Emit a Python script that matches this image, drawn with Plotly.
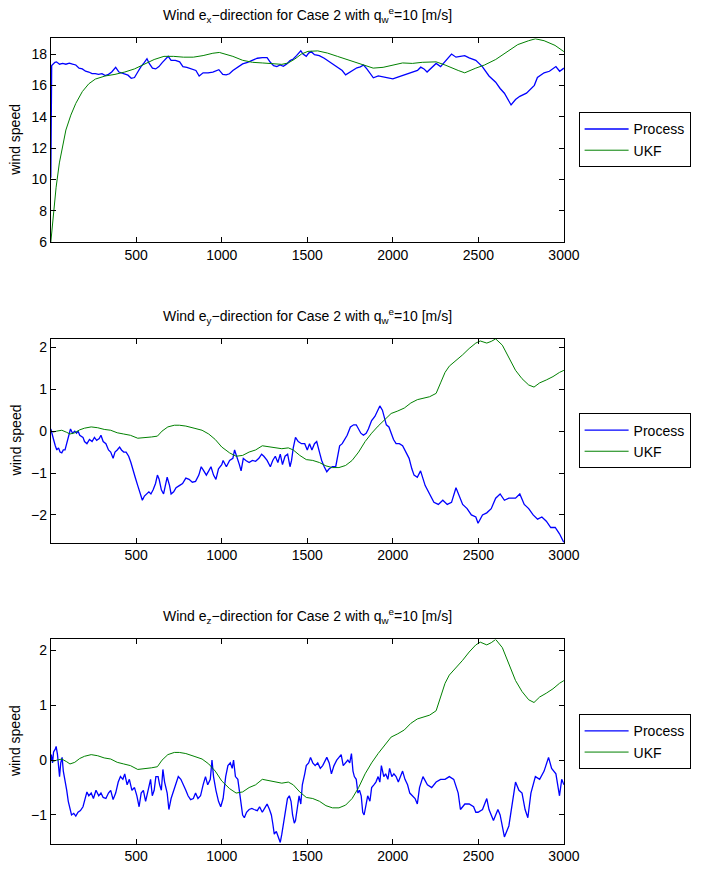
import plotly.graph_objects as go

# ---------------- data ----------------
# Panel 1: wind e_x
proc_x_t = [1, 6, 25, 34, 52, 70, 89, 109, 128, 147, 166, 185, 204, 223, 242, 261, 280, 300, 319, 338,
            357, 380, 399, 414, 433, 452, 471, 490, 509, 528, 547, 563, 576, 595, 614, 633, 652, 671, 687, 704,
            729, 754, 773, 796, 825, 849, 868, 891, 920, 948, 983, 1006, 1026, 1045, 1065, 1093, 1122, 1151, 1180, 1208,
            1237, 1265, 1284, 1303, 1322, 1341, 1360, 1380, 1399, 1418, 1437, 1462, 1475, 1494, 1508, 1523, 1542, 1570, 1599, 1628,
            1657, 1685, 1704, 1724, 1743, 1762, 1790, 1810, 1829, 1848, 1867, 1886, 1915, 1943, 1972, 2000, 2029, 2057, 2086, 2115,
            2144, 2163, 2182, 2200, 2227, 2253, 2279, 2305, 2343, 2369, 2395, 2420, 2446, 2485, 2523, 2562, 2601, 2627, 2652, 2691,
            2717, 2742, 2781, 2807, 2827, 2845, 2884, 2915, 2953, 2975, 3000]
proc_x_v = [10.1, 17.26, 17.47, 17.5, 17.35, 17.4, 17.35, 17.42, 17.35, 17.3, 17.1, 17.05, 16.9, 16.85, 16.75, 16.75, 16.7, 16.75, 16.62, 16.7,
            16.85, 17.15, 16.85, 16.8, 16.75, 16.65, 16.45, 16.5, 16.85, 17.2, 17.45, 17.7, 17.4, 17.1, 17.05, 17.2, 17.45, 17.7, 17.85, 17.6,
            17.6, 17.5, 17.2, 17.15, 17.05, 16.95, 16.6, 16.8, 16.8, 16.85, 17.0, 16.7, 16.67, 16.74, 16.95, 17.16, 17.37, 17.47, 17.62, 17.73,
            17.77, 17.77, 17.47, 17.26, 17.2, 17.3, 17.22, 17.37, 17.58, 17.68, 17.9, 18.21, 18.0, 17.85, 18.06, 18.15, 17.96, 17.9, 17.73, 17.52,
            17.26, 17.1, 16.95, 16.67, 16.8, 16.95, 17.12, 17.18, 17.3, 17.05, 16.74, 16.48, 16.6, 16.53, 16.48, 16.42, 16.53, 16.63, 16.74, 16.84,
            16.95, 17.16, 17.05, 16.85, 17.1, 17.4, 17.2, 17.5, 18.0, 17.8, 17.85, 17.9, 17.75, 17.6, 17.2, 16.6, 16.2, 15.8, 15.5, 14.75,
            15.1, 15.3, 15.5, 15.8, 16.0, 16.5, 16.8, 16.9, 17.2, 16.9, 17.1]
ukf_x_t = [1, 13, 32, 51, 70, 89, 118, 147, 185, 223, 261, 319, 376, 433, 490, 547, 605, 662, 719, 776,
           834, 891, 948, 986, 1007, 1065, 1122, 1180, 1237, 1294, 1351, 1389, 1427, 1466, 1504, 1561, 1618, 1676, 1733, 1790,
           1847, 1885, 1943, 2000, 2057, 2114, 2172, 2253, 2305, 2382, 2420, 2485, 2536, 2601, 2665, 2730, 2794, 2833, 2884, 2948, 3000]
ukf_x_v = [6.0, 7.4, 9.5, 11.05, 12.2, 13.15, 14.1, 14.85, 15.6, 16.1, 16.4, 16.6, 16.7, 16.85, 17.05, 17.35, 17.65, 17.85, 17.85, 17.8,
           17.8, 17.9, 18.05, 18.1, 18.04, 17.85, 17.6, 17.47, 17.43, 17.38, 17.34, 17.43, 17.68, 18.0, 18.17, 18.2, 18.06, 17.85, 17.64, 17.43,
           17.22, 17.1, 17.15, 17.3, 17.43, 17.4, 17.47, 17.5, 17.3, 16.95, 16.8, 17.1, 17.3, 17.65, 18.15, 18.6, 18.85, 18.97, 18.85, 18.55, 18.15]

# Panel 2: wind e_y
proc_y_t = [1, 8, 17, 27, 36, 46, 55, 65, 74, 84, 94, 103, 116, 128, 141, 151, 160, 170, 189, 198,
            212, 227, 242, 256, 269, 284, 294, 307, 323, 338, 351, 365, 376, 389, 403, 414, 427, 441, 456, 469,
            481, 494, 509, 523, 536, 548, 561, 574, 586, 599, 613, 624, 634, 647, 660, 672, 681, 695, 704, 719,
            733, 752, 771, 790, 809, 828, 847, 866, 880, 895, 910, 924, 937, 952, 966, 981, 1000, 1008, 1027, 1046,
            1065, 1075, 1088, 1103, 1113, 1126, 1141, 1160, 1179, 1198, 1217, 1233, 1246, 1265, 1284, 1298, 1313, 1328, 1342, 1355,
            1370, 1385, 1399, 1408, 1418, 1431, 1447, 1466, 1485, 1500, 1513, 1527, 1542, 1555, 1571, 1584, 1599, 1614, 1628, 1647,
            1666, 1676, 1689, 1704, 1718, 1733, 1752, 1771, 1786, 1800, 1813, 1828, 1844, 1857, 1876, 1895, 1908, 1924, 1939, 1952,
            1962, 1977, 1990, 2004, 2019, 2038, 2057, 2076, 2095, 2111, 2124, 2143, 2162, 2189, 2215, 2240, 2266, 2292, 2318, 2343,
            2369, 2408, 2434, 2459, 2485, 2498, 2524, 2549, 2575, 2601, 2627, 2652, 2678, 2717, 2742, 2768, 2794, 2820, 2846, 2871,
            2897, 2923, 2949, 2974, 3000]
proc_y_v = [0.05, -0.1, -0.2, -0.35, -0.45, -0.4, -0.5, -0.52, -0.45, -0.45, -0.3, -0.15, 0.05, -0.05, 0.0, -0.05, 0.0, -0.1, -0.15, -0.25,
            -0.3, -0.2, -0.25, -0.15, -0.22, -0.18, -0.1, -0.25, -0.3, -0.45, -0.5, -0.65, -0.5, -0.45, -0.38, -0.45, -0.5, -0.5, -0.6, -0.75,
            -0.95, -1.1, -1.3, -1.5, -1.65, -1.55, -1.5, -1.45, -1.5, -1.4, -1.25, -1.05, -1.15, -1.4, -1.5, -1.3, -1.1, -1.3, -1.5, -1.45,
            -1.35, -1.3, -1.25, -1.12, -1.15, -1.22, -1.2, -1.05, -0.85, -0.95, -1.05, -0.95, -0.85, -1.05, -1.15, -0.9, -0.8, -0.7, -0.85, -0.7,
            -0.65, -0.45, -0.6, -0.8, -0.95, -0.65, -0.7, -0.75, -0.7, -0.72, -0.65, -0.55, -0.6, -0.7, -0.85, -0.7, -0.6, -0.75, -0.55, -0.8,
            -0.6, -0.55, -0.85, -0.7, -0.4, -0.15, -0.25, -0.3, -0.3, -0.45, -0.3, -0.45, -0.3, -0.25, -0.5, -0.7, -0.85, -0.97, -0.9, -0.85,
            -0.85, -0.6, -0.35, -0.3, -0.2, -0.1, 0.1, 0.15, 0.15, 0.05, -0.05, -0.1, -0.05, 0.05, 0.25, 0.35, 0.45, 0.6, 0.5, 0.3,
            0.15, 0.1, -0.05, -0.2, -0.3, -0.3, -0.35, -0.5, -0.65, -0.9, -1.05, -1.1, -0.95, -1.3, -1.5, -1.7, -1.75, -1.65, -1.75, -1.7,
            -1.35, -1.75, -1.85, -2.0, -2.05, -2.2, -2.0, -1.95, -1.85, -1.6, -1.5, -1.65, -1.6, -1.6, -1.5, -1.75, -1.85, -2.0, -2.1, -2.05,
            -2.15, -2.3, -2.3, -2.45, -2.66]
ukf_y_t = [1, 17, 36, 65, 94, 113, 141, 170, 198, 237, 275, 313, 351, 389, 427, 466, 509, 551, 590, 624,
           651, 685, 723, 752, 790, 838, 885, 924, 962, 1000, 1046, 1084, 1122, 1160, 1198, 1237, 1275, 1313, 1351, 1389,
           1418, 1456, 1494, 1532, 1571, 1609, 1647, 1685, 1724, 1762, 1800, 1838, 1876, 1914, 1952, 1990, 2029, 2067, 2105, 2143,
           2215, 2253, 2279, 2305, 2330, 2369, 2408, 2446, 2485, 2511, 2549, 2575, 2601, 2640, 2678, 2717, 2755, 2794, 2825, 2858,
           2897, 2936, 2974, 3000]
ukf_y_v = [0.0, -0.02, 0.0, 0.02, -0.03, -0.07, -0.04, 0.03, 0.07, 0.1, 0.08, 0.04, 0.02, -0.04, -0.07, -0.1, -0.17, -0.16, -0.14, -0.12,
           0.0, 0.1, 0.14, 0.14, 0.12, 0.07, 0.02, -0.07, -0.2, -0.38, -0.52, -0.6, -0.58, -0.5, -0.45, -0.35, -0.37, -0.4, -0.42, -0.4,
           -0.45, -0.58, -0.68, -0.7, -0.75, -0.83, -0.87, -0.87, -0.82, -0.7, -0.5, -0.25, -0.05, 0.12, 0.27, 0.42, 0.48, 0.55, 0.67, 0.75,
           0.82, 0.9, 1.15, 1.4, 1.55, 1.68, 1.82, 1.97, 2.1, 2.15, 2.1, 2.14, 2.2, 2.05, 1.75, 1.45, 1.25, 1.1, 1.05, 1.15,
           1.22, 1.3, 1.4, 1.45]

# Panel 3: wind e_z
proc_z_t = [1, 4, 11, 17, 27, 32, 40, 46, 52, 59, 67, 74, 84, 94, 103, 113, 122, 135, 147, 160,
            174, 189, 202, 212, 223, 237, 250, 265, 281, 294, 307, 323, 338, 351, 365, 380, 395, 408, 422, 433,
            447, 460, 475, 490, 504, 517, 529, 542, 555, 571, 584, 594, 605, 615, 628, 637, 647, 656, 666, 681,
            691, 704, 719, 733, 746, 761, 777, 790, 803, 818, 834, 847, 861, 876, 891, 905, 918, 933, 943, 952,
            966, 981, 994, 1008, 1023, 1036, 1050, 1061, 1069, 1080, 1094, 1103, 1113, 1122, 1132, 1145, 1160, 1176, 1189, 1208,
            1221, 1237, 1252, 1265, 1279, 1290, 1298, 1307, 1319, 1332, 1342, 1351, 1361, 1370, 1384, 1395, 1405, 1414, 1424, 1431,
            1443, 1452, 1462, 1471, 1485, 1494, 1508, 1519, 1532, 1546, 1561, 1576, 1590, 1603, 1614, 1628, 1641, 1656, 1672, 1685,
            1698, 1710, 1724, 1737, 1748, 1758, 1767, 1775, 1786, 1796, 1805, 1815, 1824, 1832, 1844, 1853, 1866, 1876, 1889, 1901,
            1914, 1924, 1933, 1947, 1958, 1971, 1981, 1994, 2006, 2019, 2032, 2044, 2057, 2071, 2086, 2099, 2115, 2130, 2143, 2156,
            2176, 2202, 2227, 2253, 2279, 2305, 2330, 2356, 2382, 2395, 2421, 2446, 2472, 2485, 2498, 2524, 2549, 2562, 2588, 2614,
            2627, 2652, 2678, 2696, 2717, 2737, 2755, 2773, 2789, 2807, 2833, 2858, 2884, 2910, 2928, 2953, 2974, 2987, 3000]
proc_z_v = [0.0, 0.1, -0.05, 0.15, 0.2, 0.25, 0.1, -0.1, -0.3, -0.05, 0.05, -0.2, -0.35, -0.55, -0.75, -0.9, -1.0, -0.97, -1.02, -0.95,
            -0.92, -0.85, -0.7, -0.58, -0.65, -0.6, -0.7, -0.55, -0.65, -0.6, -0.68, -0.7, -0.6, -0.55, -0.72, -0.6, -0.4, -0.3, -0.35, -0.25,
            -0.45, -0.35, -0.55, -0.5, -0.65, -0.85, -0.6, -0.55, -0.75, -0.5, -0.35, -0.65, -0.55, -0.3, -0.3, -0.45, -0.55, -0.17, -0.4, -0.6,
            -0.9, -0.7, -0.55, -0.4, -0.3, -0.35, -0.45, -0.55, -0.65, -0.72, -0.7, -0.6, -0.7, -0.65, -0.45, -0.3, -0.45, -0.35, 0.0, -0.3,
            -0.55, -0.75, -0.85, -0.7, -0.3, -0.1, -0.05, -0.15, 0.0, -0.3, -0.35, -0.55, -0.8, -1.0, -1.05, -0.95, -0.9, -0.88, -0.9, -0.92,
            -0.85, -0.95, -0.87, -0.8, -0.9, -1.0, -1.15, -1.35, -1.3, -1.4, -1.5, -1.35, -1.15, -0.95, -0.7, -0.65, -0.75, -1.0, -1.15, -1.1,
            -0.8, -0.65, -0.8, -0.45, -0.25, -0.1, -0.05, 0.05, -0.05, -0.1, -0.05, -0.15, -0.1, 0.0, 0.05, -0.05, -0.25, -0.1, 0.0, 0.05,
            0.1, -0.1, -0.05, 0.0, -0.05, 0.12, -0.2, -0.3, -0.35, -0.6, -0.55, -0.65, -0.95, -1.0, -0.8, -0.65, -0.75, -0.5, -0.45, -0.4,
            -0.3, -0.4, -0.1, -0.3, -0.25, -0.35, -0.15, -0.3, -0.25, -0.3, -0.4, -0.3, -0.2, -0.35, -0.45, -0.6, -0.65, -0.7, -0.8, -0.5,
            -0.3, -0.45, -0.5, -0.4, -0.35, -0.35, -0.3, -0.35, -0.6, -0.9, -0.8, -0.8, -0.85, -0.95, -0.95, -0.9, -0.7, -0.9, -1.1, -0.9,
            -1.0, -1.4, -1.2, -0.85, -0.4, -0.55, -0.6, -0.9, -1.05, -0.6, -0.3, -0.35, -0.2, 0.05, -0.15, -0.25, -0.65, -0.35, -0.45]
ukf_z_t = list(ukf_y_t)
ukf_z_v = list(ukf_y_v)

series_names = ["Process", "UKF"]
x_ticks = [500, 1000, 1500, 2000, 2500, 3000]
y_ticks_1 = [6, 8, 10, 12, 14, 16, 18]
y_ticks_2 = [-2, -1, 0, 1, 2]
y_ticks_3 = [-1, 0, 1, 2]
titles = [
    "Wind e<sub>x</sub>\u2212direction for Case 2 with q<sub>w</sub><sup>e</sup>=10 [m/s]",
    "Wind e<sub>y</sub>\u2212direction for Case 2 with q<sub>w</sub><sup>e</sup>=10 [m/s]",
    "Wind e<sub>z</sub>\u2212direction for Case 2 with q<sub>w</sub><sup>e</sup>=10 [m/s]",
]
y_label = "wind speed"

# ---------------- figure ----------------
W, H = 707, 876
FONT = "Arial, Liberation Sans, Helvetica, sans-serif"
BLUE = "#0000ff"
GREEN = "#008000"

def px_x(p):
    return p / W

def px_y(p):
    return 1 - p / H

panels = [
    dict(top=38.7, bottom=244.3, yr=[6, 19], yt=y_ticks_1, title_y=15,
         data=[(proc_x_t, proc_x_v), (ukf_x_t, ukf_x_v)], leg_mid=141.2),
    dict(top=342.0, bottom=547.6, yr=[-2.66, 2.2], yt=y_ticks_2, title_y=319,
         data=[(proc_y_t, proc_y_v), (ukf_y_t, ukf_y_v)], leg_mid=445.0),
    dict(top=645.3, bottom=851.3, yr=[-1.52, 2.2], yt=y_ticks_3, title_y=622,
         data=[(proc_z_t, proc_z_v), (ukf_z_t, ukf_z_v)], leg_mid=748.6),
]

AX_L, AX_R = 52, 577
fig = go.Figure()
layout = dict(
    width=W, height=H,
    margin=dict(l=0, r=0, t=0, b=0),
    paper_bgcolor="white", plot_bgcolor="white",
    font=dict(family=FONT, size=14, color="black"),
    annotations=[],
)

for i, p in enumerate(panels):
    n = "" if i == 0 else str(i + 1)
    leg = "legend" + n
    xa = "x" + n
    ya = "y" + n
    colors = [BLUE, GREEN]
    widths = [1.3, 1.0]
    for k, (t, v) in enumerate(p["data"]):
        fig.add_trace(go.Scatter(
            x=t, y=v, mode="lines", name=series_names[k],
            line=dict(color=colors[k], width=widths[k]),
            xaxis=xa, yaxis=ya, legend=leg, showlegend=True,
        ))
    axcommon = dict(showline=True, linecolor="black", linewidth=1, mirror="ticks",
                    ticks="inside", ticklen=5, tickcolor="black", showgrid=False,
                    zeroline=False, tickfont=dict(size=14, family=FONT, color="black"))
    layout["xaxis" + n] = dict(domain=[px_x(AX_L), px_x(AX_R)], range=[1, 3000],
                               tickvals=x_ticks, anchor=ya, **axcommon)
    layout["yaxis" + n] = dict(domain=[px_y(p["bottom"]), px_y(p["top"])], range=p["yr"],
                               tickvals=p["yt"], anchor=xa, **axcommon)
    layout[leg] = dict(x=px_x(592), y=px_y(p["leg_mid"]), xanchor="left", yanchor="middle",
                       bordercolor="black", borderwidth=1, bgcolor="white",
                       itemwidth=44,
                       font=dict(size=14, family=FONT, color="black"), tracegroupgap=0)
    layout["annotations"].append(dict(
        text=titles[i], x=px_x((AX_L + AX_R) / 2), y=px_y(p["title_y"]),
        xref="paper", yref="paper", xanchor="center", yanchor="middle",
        showarrow=False, font=dict(size=14, family=FONT, color="black")))
    layout["annotations"].append(dict(
        text=y_label, x=px_x(16), y=px_y((p["top"] + p["bottom"]) / 2),
        xref="paper", yref="paper", xanchor="center", yanchor="middle", textangle=-90,
        showarrow=False, font=dict(size=14, family=FONT, color="black")))

fig.update_layout(**layout)
fig.write_html("out.html")
